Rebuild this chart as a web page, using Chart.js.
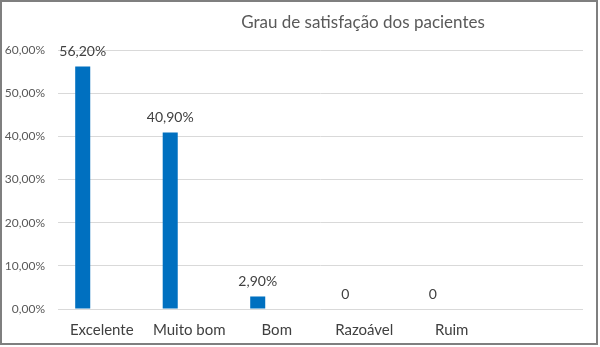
<!DOCTYPE html>
<html>
<head>
<meta charset="utf-8">
<script src="https://cdn.jsdelivr.net/npm/chart.js@4.4.1/dist/chart.umd.min.js"></script>
<style>
  html, body { margin: 0; padding: 0; background: #fff; }
  canvas { display: block; }
</style>
</head>
<body>
<canvas id="grafico" width="600" height="347"></canvas>
<script>
// Dados do gráfico
const titulo = 'Grau de satisfação dos pacientes';
const categorias = ['Excelente', 'Muito bom', 'Bom', 'Razoável', 'Ruim', ''];
const percentuais = [56.2, 40.9, 2.9, 0, 0, null];
const serieVazia = [null, null, null, null, null, null];
const ticksY = [0, 10, 20, 30, 40, 50, 60];

const fmtPct = v => v.toFixed(2).replace('.', ',') + '%';

// Título desenhado à mão (no original ele não fica centralizado)
const tituloPlugin = {
    id: 'tituloPlugin',
    afterDraw(chart) {
        const ctx = chart.ctx;
        ctx.save();
        ctx.font = '17px Lato';
        ctx.fillStyle = '#595959';
        ctx.textAlign = 'center';
        ctx.textBaseline = 'alphabetic';
        ctx.fillText(titulo, 363, 28);
        ctx.restore();
    }
};

// Rótulos de dados acima das barras
const rotulosPlugin = {
    id: 'rotulosPlugin',
    afterDatasetsDraw(chart) {
        const ctx = chart.ctx;
        const meta = chart.getDatasetMeta(0);
        ctx.save();
        ctx.font = '14px Lato';
        ctx.fillStyle = '#404040';
        ctx.textAlign = 'center';
        ctx.textBaseline = 'middle';
        meta.data.forEach((bar, i) => {
            const v = percentuais[i];
            if (v === null) return;
            const txt = v === 0 ? '0' : fmtPct(v);
            ctx.fillText(txt, bar.x, bar.y - 15);
        });
        ctx.restore();
    }
};

// Moldura cinza em volta do gráfico
const molduraPlugin = {
    id: 'molduraPlugin',
    beforeDraw(chart) {
        const ctx = chart.ctx;
        ctx.save();
        ctx.fillStyle = '#fff';
        ctx.fillRect(0, 0, chart.width, chart.height);
        ctx.restore();
    },
    afterDraw(chart) {
        const ctx = chart.ctx;
        ctx.save();
        ctx.strokeStyle = '#7f7f7f';
        ctx.lineWidth = 2;
        ctx.strokeRect(1, 1, 596, 343);
        ctx.restore();
    }
};

Chart.defaults.font.family = 'Lato';

new Chart(document.getElementById('grafico'), {
    type: 'bar',
    data: {
        labels: categorias,
        datasets: [
            {
                label: 'Satisfação',
                data: percentuais,
                backgroundColor: '#0070C0',
                categoryPercentage: 0.87,
                barPercentage: 0.395
            },
            {
                label: '',
                data: serieVazia,
                backgroundColor: '#0070C0',
                categoryPercentage: 0.87,
                barPercentage: 0.395
            }
        ]
    },
    options: {
        responsive: false,
        animation: false,
        layout: { padding: { top: 50, right: 17, bottom: 0, left: 0 } },
        plugins: {
            legend: { display: false },
            tooltip: { enabled: false },
            title: { display: false }
        },
        scales: {
            x: {
                grid: { display: false, drawTicks: false },
                border: { display: false },
                ticks: { color: '#404040', font: { size: 15 }, padding: 12, maxRotation: 0 },
                afterFit(scale) { scale.height = 38; }
            },
            y: {
                min: ticksY[0],
                max: ticksY[ticksY.length - 1],
                grid: { color: '#d9d9d9', drawTicks: false },
                border: { display: false },
                ticks: {
                    stepSize: 10,
                    color: '#595959',
                    font: { size: 12 },
                    padding: 13,
                    callback: v => fmtPct(v)
                },
                afterFit(scale) { scale.width = 58; }
            }
        }
    },
    plugins: [molduraPlugin, rotulosPlugin, tituloPlugin]
});
</script>
</body>
</html>
